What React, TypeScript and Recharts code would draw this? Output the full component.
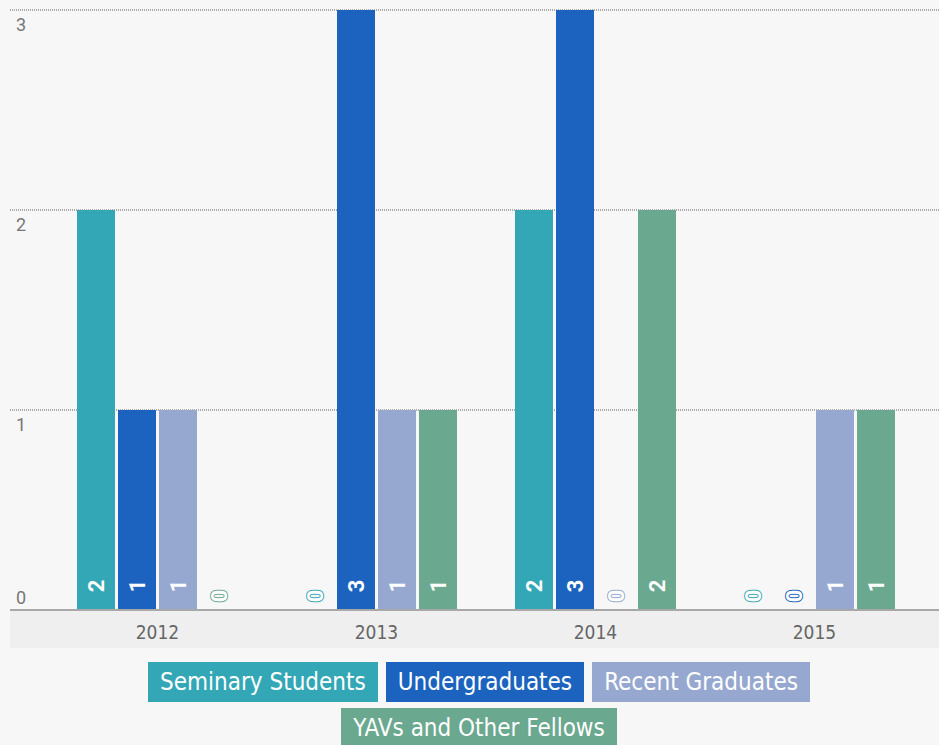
import { BarChart, Bar, XAxis, YAxis, CartesianGrid, LabelList } from 'recharts';

const years = ['2012', '2013', '2014', '2015'];
const seminaryStudents = [2, 0, 2, 0];
const undergraduates = [1, 3, 3, 0];
const recentGraduates = [1, 1, 0, 1];
const yavsAndFellows = [0, 1, 2, 1];
const yTicks = [0, 1, 2, 3];

const series = [
  { key: 'seminary', name: 'Seminary Students', color: '#34a7b6', values: seminaryStudents },
  { key: 'undergrad', name: 'Undergraduates', color: '#1b63be', values: undergraduates },
  { key: 'recent', name: 'Recent Graduates', color: '#96a8d0', values: recentGraduates },
  { key: 'yav', name: 'YAVs and Other Fellows', color: '#6aa88f', values: yavsAndFellows },
];

const data = years.map((year, i) => {
  const row: any = { year };
  series.forEach((s) => (row[s.key] = s.values[i]));
  return row;
});

const FONT = '"DejaVu Sans Condensed", "Liberation Sans Narrow", "Open Sans", sans-serif';

const YTick = (props: any) => {
  const { y, payload } = props;
  const dy = payload.value === 0 ? -13 : 14;
  return (
    <text x={16} y={y + dy} fill="#777" fontSize={18} fontFamily="Roboto, sans-serif" dominantBaseline="central">
      {payload.value}
    </text>
  );
};

const XTick = (props: any) => {
  const { x, payload } = props;
  return (
    <text x={x} y={632} fill="#666" fontSize={19} fontFamily={FONT} textAnchor="middle" dominantBaseline="central">
      {payload.value}
    </text>
  );
};

const makeLabel = (color: string) => (props: any) => {
  const { x, y, width, height, value } = props;
  const cx = Number(x) + Number(width) / 2;
  const base = Number(y) + Number(height);
  const isZero = Number(value) === 0;
  const cy = isZero ? base - 14 : base - 24;
  return (
    <text
      x={cx}
      y={cy}
      transform={`rotate(-90 ${cx} ${cy})`}
      textAnchor="middle"
      dominantBaseline="central"
      fill="#fff"
      stroke={color}
      strokeWidth={isZero ? 2 : 1}
      paintOrder="stroke"
      fontSize={22}
      fontWeight="bold"
      fontFamily="Roboto, sans-serif"
    >
      {String(value)}
    </text>
  );
};

export default function App() {
  return (
    <div style={{ position: 'absolute', left: 0, top: 0, width: 939, height: 745, background: '#f7f7f7', overflow: 'hidden' }}>
      <div style={{ position: 'absolute', left: 10, top: 611, width: 929, height: 37, background: '#efefef' }} />
      <div style={{ position: 'absolute', left: 0, top: 0 }}>
        <BarChart
          width={939}
          height={650}
          data={data}
          margin={{ top: 10, right: 0, left: 0, bottom: 2 }}
          barCategoryGap={29}
          barGap={3}
        >
          <CartesianGrid vertical={false} stroke="#aaa" strokeDasharray="1 1" strokeWidth={2} />
          <XAxis
            dataKey="year"
            height={38}
            padding={{ left: 38, right: 15 }}
            axisLine={{ stroke: '#a8a8a8', strokeWidth: 2 }}
            tickLine={false}
            tick={<XTick />}
            interval={0}
          />
          <YAxis width={10} domain={[0, 3]} ticks={yTicks} axisLine={false} tickLine={false} tick={<YTick />} />
          {series.map((s) => (
            <Bar key={s.key} dataKey={s.key} name={s.name} fill={s.color} minPointSize={0.01} isAnimationActive={false}>
              <LabelList dataKey={s.key} content={makeLabel(s.color)} />
            </Bar>
          ))}
        </BarChart>
      </div>
      <div style={{ position: 'absolute', left: 10, top: 662, width: 938 }}>
        <div style={{ maxWidth: 690, margin: '0 auto', display: 'flex', flexWrap: 'wrap', justifyContent: 'center', columnGap: 8, rowGap: 6 }}>
          {series.map((s) => (
            <div
              key={s.key}
              style={{
                background: s.color,
                color: '#fff',
                fontFamily: FONT,
                fontSize: 24,
                height: 40,
                lineHeight: '40px',
                padding: '0 12px',
                boxSizing: 'border-box',
              }}
            >
              {s.name}
            </div>
          ))}
        </div>
      </div>
    </div>
  );
}
